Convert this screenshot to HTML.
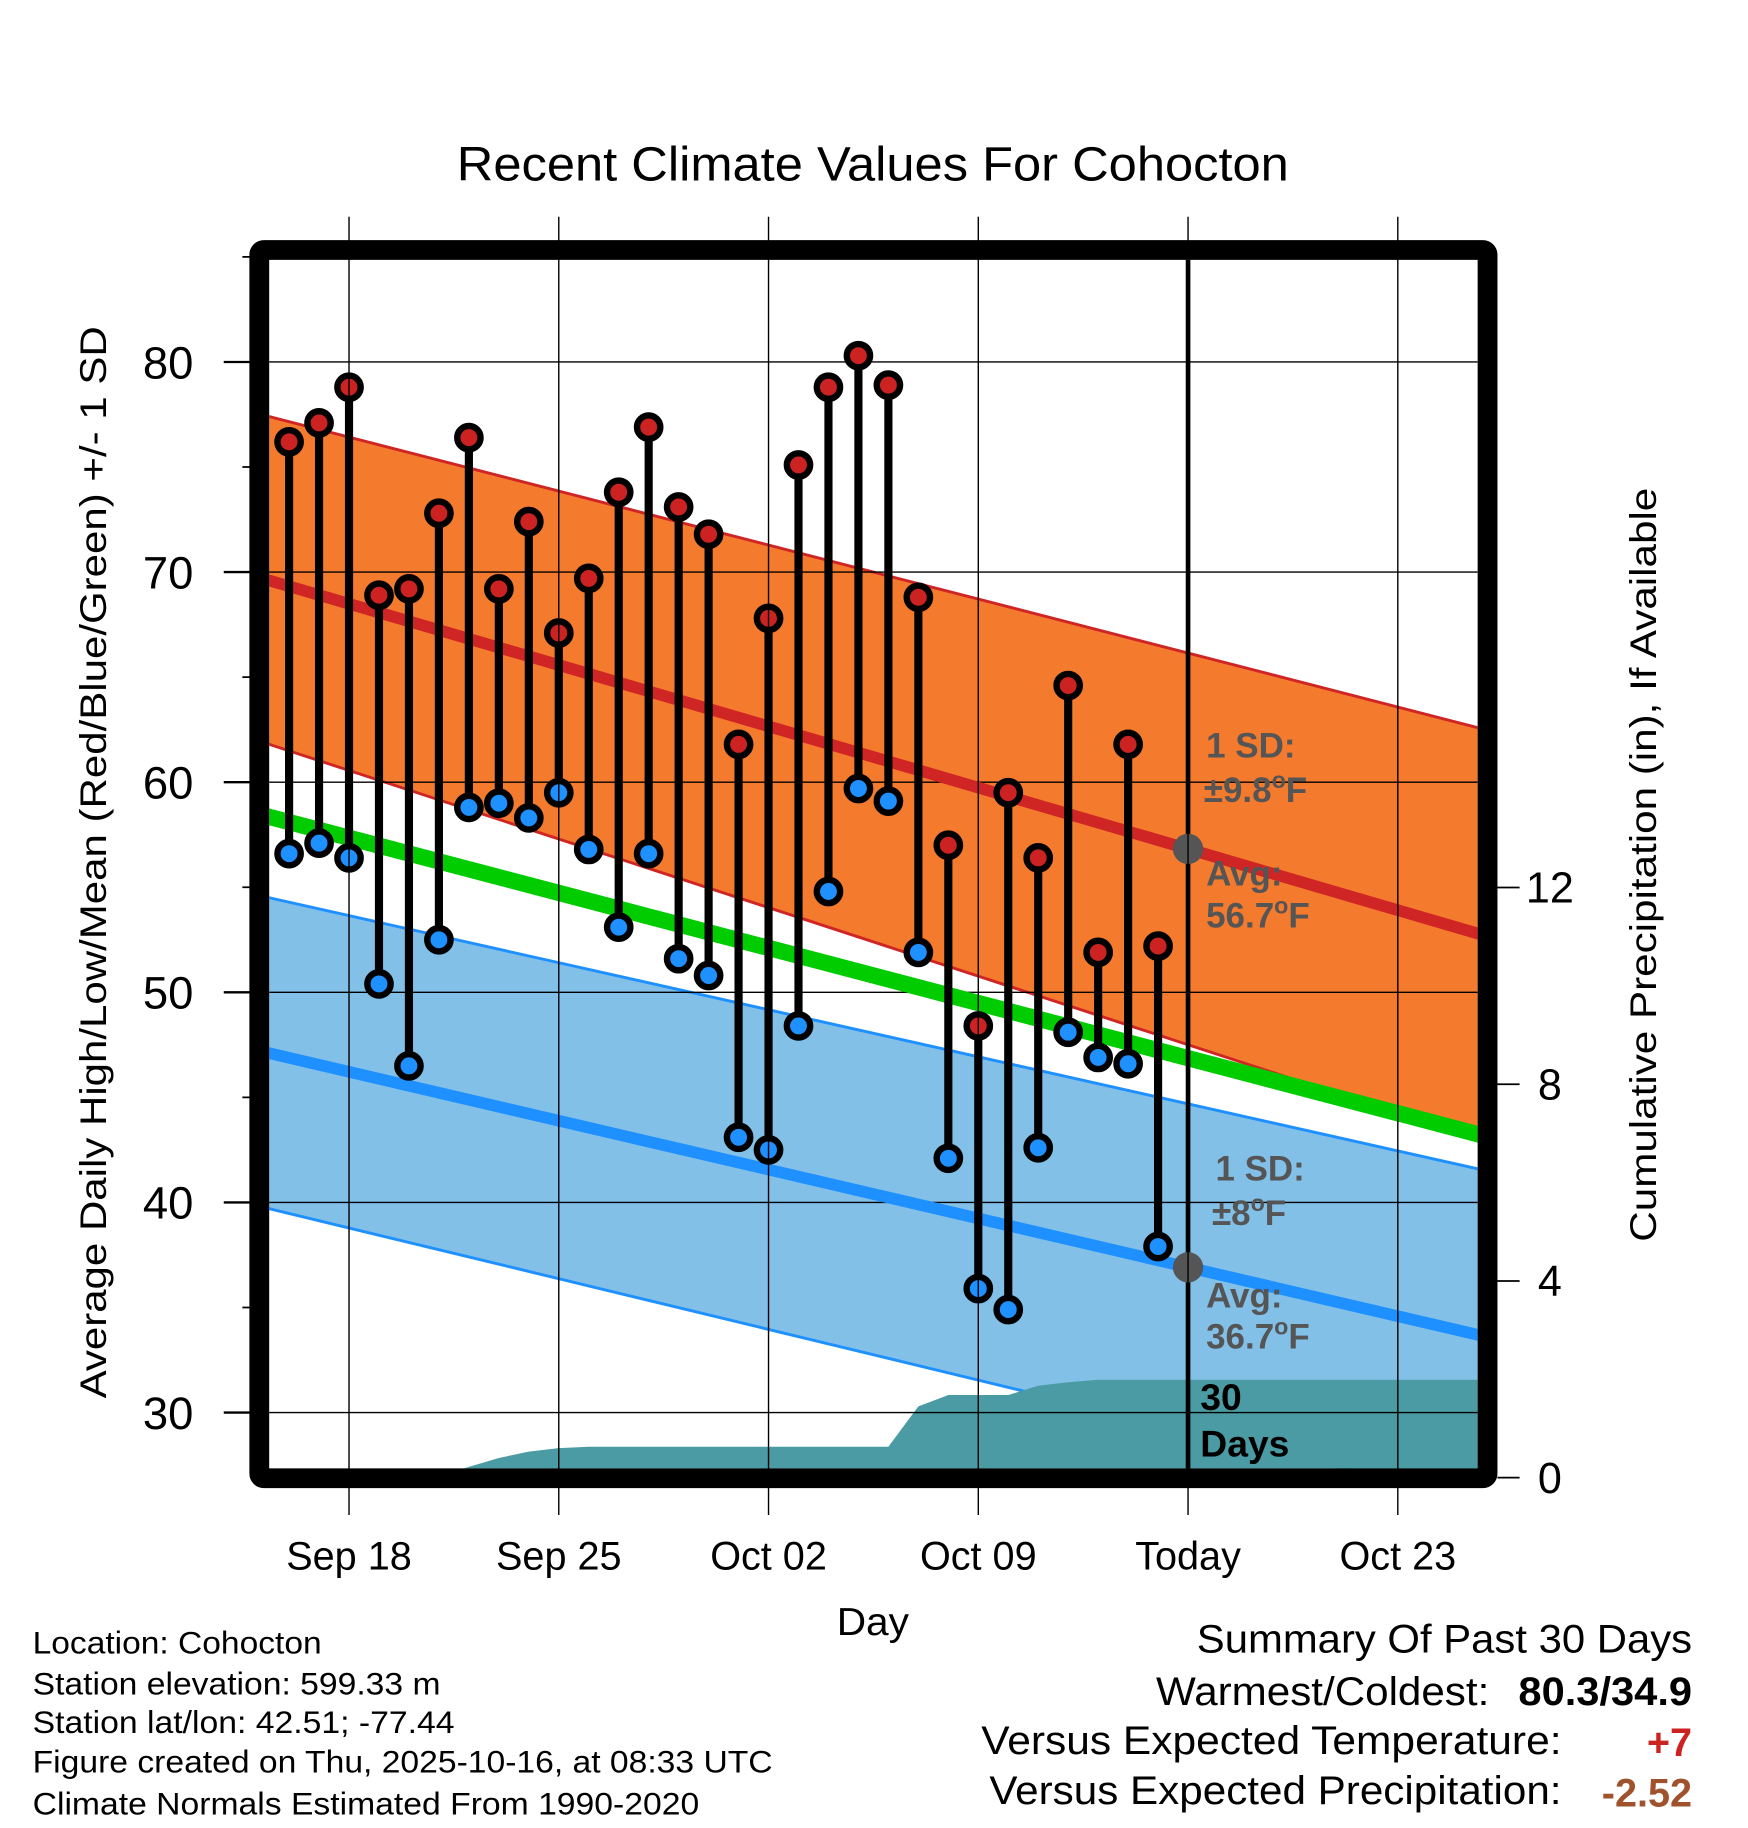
<!DOCTYPE html>
<html><head><meta charset="utf-8"><style>
html,body{margin:0;padding:0;background:#fff}
svg{display:block}
text{font-family:"Liberation Sans",sans-serif}
</style></head><body>
<svg id="chart" width="1748" height="1828" viewBox="0 0 1500 1568.6" xmlns="http://www.w3.org/2000/svg">
<defs><clipPath id="plotclip"><rect x="231" y="223" width="1037" height="1037"/></clipPath></defs>
<g id="plot" clip-path="url(#plotclip)"></g>
<g id="overlay"></g>
</svg>
<script>
const days = ["Sep 16","Sep 17","Sep 18","Sep 19","Sep 20","Sep 21","Sep 22","Sep 23","Sep 24","Sep 25","Sep 26","Sep 27","Sep 28","Sep 29","Sep 30","Oct 01","Oct 02","Oct 03","Oct 04","Oct 05","Oct 06","Oct 07","Oct 08","Oct 09","Oct 10","Oct 11","Oct 12","Oct 13","Oct 14","Oct 15"];
const highs = [76.2,77.1,78.8,68.9,69.2,72.8,76.4,69.2,72.4,67.1,69.7,73.8,76.9,73.1,71.8,61.8,67.8,75.1,78.8,80.3,78.9,68.8,57.0,48.4,59.5,56.4,64.6,51.9,61.8,52.2];
const lows = [56.6,57.1,56.4,50.4,46.5,52.5,58.8,59.0,58.3,59.5,56.8,53.1,56.6,51.6,50.8,43.1,42.5,48.4,54.8,59.7,59.1,51.9,42.1,35.9,34.9,42.6,48.1,46.9,46.6,37.9];
const precip = [0,0,0,0,0,0.03,0.22,0.4,0.53,0.6,0.63,0.63,0.63,0.63,0.63,0.63,0.63,0.63,0.63,0.63,0.63,1.45,1.68,1.68,1.68,1.87,1.94,1.99,1.99,1.99,1.99];
const normalDays = [-0.66, 39.66];
const normalHigh = [69.6, 52.8];
const normalLow = [47.1, 33.7];
const sdHigh = [7.8, 9.8];
const sdLow = [7.4, 7.9];
const xTickLabels = ["Sep 18","Sep 25","Oct 02","Oct 09","Today","Oct 23"];
const xTickDays = [2,9,16,23,30,37];
const yTicks = [30,40,50,60,70,80];
const pTicks = [0,4,8,12];

const NS="http://www.w3.org/2000/svg";
const X = d => 299.5 + (d-2)*25.714;
const Y = t => 310.6 + (80-t)*18.03;
const P = p => 1268 - p*42.2;
const plot=document.getElementById('plot'), ov=document.getElementById('overlay');
function mk(tag, attrs, parent){const e=document.createElementNS(NS,tag);for(const k in attrs)e.setAttribute(k,attrs[k]);parent.appendChild(e);return e;}
function lin(arr,d){return arr[0]+(arr[1]-arr[0])*(d-normalDays[0])/(normalDays[1]-normalDays[0]);}
function bandPts(arr,sd,sign){const a=normalDays[0]-1,b=normalDays[1]+1;return [[X(a),Y(lin(arr,a)+sign*lin(sd,a))],[X(b),Y(lin(arr,b)+sign*lin(sd,b))]];}

let hu=bandPts(normalHigh,sdHigh,1), hl=bandPts(normalHigh,sdHigh,-1);
let e=mk('polygon',{points:[...hu,...hl.reverse()].map(p=>p.join(',')).join(' '),fill:'#f47a2e',stroke:'#d02525','stroke-width':2.5},plot);

let lu=bandPts(normalLow,sdLow,1), ll=bandPts(normalLow,sdLow,-1);
e=mk('polygon',{points:[...lu,...ll.reverse()].map(p=>p.join(',')).join(' '),fill:'#82c0e8',stroke:'#1e90ff','stroke-width':2.5},plot);

let pp=precip.map((v,i)=>[X(i),P(v)]);pp.push([X(42),P(precip[precip.length-1])]);
e=mk('polygon',{points:[[X(0),P(0)],...pp,[X(42),P(0)]].map(p=>p.join(',')).join(' '),fill:'#4a9ba3'},plot);

for(const d of xTickDays){e=mk('line',{x1:X(d),x2:X(d),y1:186,y2:1300,stroke:'#000','stroke-width':1.2},ov);}
for(const t of yTicks){e=mk('line',{x1:195,x2:1268,y1:Y(t),y2:Y(t),stroke:'#000','stroke-width':1.2},plot);
 e=mk('line',{x1:192,x2:222,y1:Y(t),y2:Y(t),stroke:'#000','stroke-width':2},ov);}
for(const t of [35,45,55,65,75,85]){e=mk('line',{x1:208,x2:222,y1:Y(t),y2:Y(t),stroke:'#000','stroke-width':1.5},ov);}
function nline(arr,col,w,name){const a=normalDays[0]-1,b=normalDays[1]+1;const l=mk('line',{x1:X(a),y1:Y(lin(arr,a)),x2:X(b),y2:Y(lin(arr,b)),stroke:col,'stroke-width':w},plot);}
const normalMean=[(normalHigh[0]+normalLow[0])/2,(normalHigh[1]+normalLow[1])/2];
nline(normalMean,'#00cc00',14,'normal-mean-line');
nline(normalHigh,'#d02525',10,'normal-high-line');
nline(normalLow,'#1e90ff',10,'normal-low-line');
e=mk('line',{x1:X(30),x2:X(30),y1:223,y2:1262,stroke:'#000','stroke-width':4},plot);
for(let i=0;i<days.length;i++){
 e=mk('line',{x1:X(i),x2:X(i),y1:Y(highs[i]),y2:Y(lows[i]),stroke:'#000','stroke-width':7},plot);
}
for(let i=0;i<days.length;i++){
 e=mk('circle',{cx:X(i),cy:Y(highs[i]),r:10,fill:'#cc2222',stroke:'#000','stroke-width':5.5},plot);
 e=mk('circle',{cx:X(i),cy:Y(lows[i]),r:10,fill:'#1e90ff',stroke:'#000','stroke-width':5.5},plot);
}
e=mk('circle',{cx:X(30),cy:Y(lin(normalHigh,30)),r:13,fill:'#555'},plot);
e=mk('circle',{cx:X(30),cy:Y(lin(normalLow,30)),r:13,fill:'#555'},plot);
e=mk('rect',{x:222.5,y:214.5,width:1054,height:1054,rx:4,fill:'none',stroke:'#000','stroke-width':17},ov);
function txt(s,x,y,attrs,name,parent){const t=mk('text',Object.assign({x:x,y:y},attrs),parent||ov);t.textContent=s;return t;}
for(const t of yTicks) txt(String(t),166,Y(t)+14,{'font-size':39,'text-anchor':'end'},'y-tick-label');
for(let i=0;i<xTickDays.length;i++) txt(xTickLabels[i],X(xTickDays[i]),1347,{'font-size':34,'text-anchor':'middle'},'x-tick-label');
for(const p of pTicks){e=mk('line',{x1:1285,x2:1304,y1:P(p),y2:P(p),stroke:'#000','stroke-width':1.5},ov);
 txt(String(p),1330,P(p)+13,{'font-size':37,'text-anchor':'middle'},'precip-tick-label');}
</script>
<svg style="position:absolute;left:0;top:0" width="1748" height="1828" viewBox="0 0 1500 1568.6" xmlns="http://www.w3.org/2000/svg" font-family="Liberation Sans, sans-serif">
<text x="392" y="155" font-size="41" textLength="714" lengthAdjust="spacingAndGlyphs">Recent Climate Values For Cohocton</text>
<text transform="translate(91,740) rotate(-90)" font-size="32" text-anchor="middle" textLength="920" lengthAdjust="spacingAndGlyphs">Average Daily High/Low/Mean (Red/Blue/Green) +/- 1 SD</text>
<text transform="translate(1421,742) rotate(-90)" font-size="32" text-anchor="middle" textLength="647" lengthAdjust="spacingAndGlyphs">Cumulative Precipitation (in), If Available</text>
<text x="718" y="1403" font-size="33" textLength="62" lengthAdjust="spacingAndGlyphs">Day</text>
<g font-size="30" font-weight="bold" fill="#555"><text x="1035" y="650">1 SD:</text><text x="1033" y="688">±9.8<tspan font-size="20" dy="-12">o</tspan><tspan dy="12">F</tspan></text></g>
<g font-size="30" font-weight="bold" fill="#555"><text x="1035" y="760">Avg:</text><text x="1035" y="796">56.7<tspan font-size="20" dy="-12">o</tspan><tspan dy="12">F</tspan></text></g>
<g font-size="30" font-weight="bold" fill="#555"><text x="1043" y="1013">1 SD:</text><text x="1040" y="1051">±8<tspan font-size="20" dy="-12">o</tspan><tspan dy="12">F</tspan></text></g>
<g font-size="30" font-weight="bold" fill="#555"><text x="1035" y="1122">Avg:</text><text x="1035" y="1157">36.7<tspan font-size="20" dy="-12">o</tspan><tspan dy="12">F</tspan></text></g>
<g font-size="32" font-weight="bold" fill="#000"><text x="1030" y="1210">30</text><text x="1030" y="1250">Days</text></g>
<g font-size="27" fill="#000">
<text x="28" y="1419" textLength="248" lengthAdjust="spacingAndGlyphs">Location: Cohocton</text>
<text x="28" y="1454" textLength="350" lengthAdjust="spacingAndGlyphs">Station elevation: 599.33 m</text>
<text x="28" y="1487" textLength="362" lengthAdjust="spacingAndGlyphs">Station lat/lon: 42.51; -77.44</text>
<text x="28" y="1521" textLength="635" lengthAdjust="spacingAndGlyphs">Figure created on Thu, 2025-10-16, at 08:33 UTC</text>
<text x="28" y="1557" textLength="572" lengthAdjust="spacingAndGlyphs">Climate Normals Estimated From 1990-2020</text>
</g>
<g font-size="34" fill="#000">
<text x="1027" y="1418" textLength="425" lengthAdjust="spacingAndGlyphs">Summary Of Past 30 Days</text>
<text x="992" y="1463" textLength="286" lengthAdjust="spacingAndGlyphs">Warmest/Coldest:</text>
<text x="1303" y="1463" font-weight="bold" textLength="149" lengthAdjust="spacingAndGlyphs">80.3/34.9</text>
<text x="842" y="1505" textLength="498" lengthAdjust="spacingAndGlyphs">Versus Expected Temperature:</text>
<text x="1452" y="1507" text-anchor="end" font-weight="bold" fill="#cc2222">+7</text>
<text x="849" y="1548" textLength="491" lengthAdjust="spacingAndGlyphs">Versus Expected Precipitation:</text>
<text x="1452" y="1550" text-anchor="end" font-weight="bold" fill="#a0522d">-2.52</text>
</g>
</svg>
</body></html>
